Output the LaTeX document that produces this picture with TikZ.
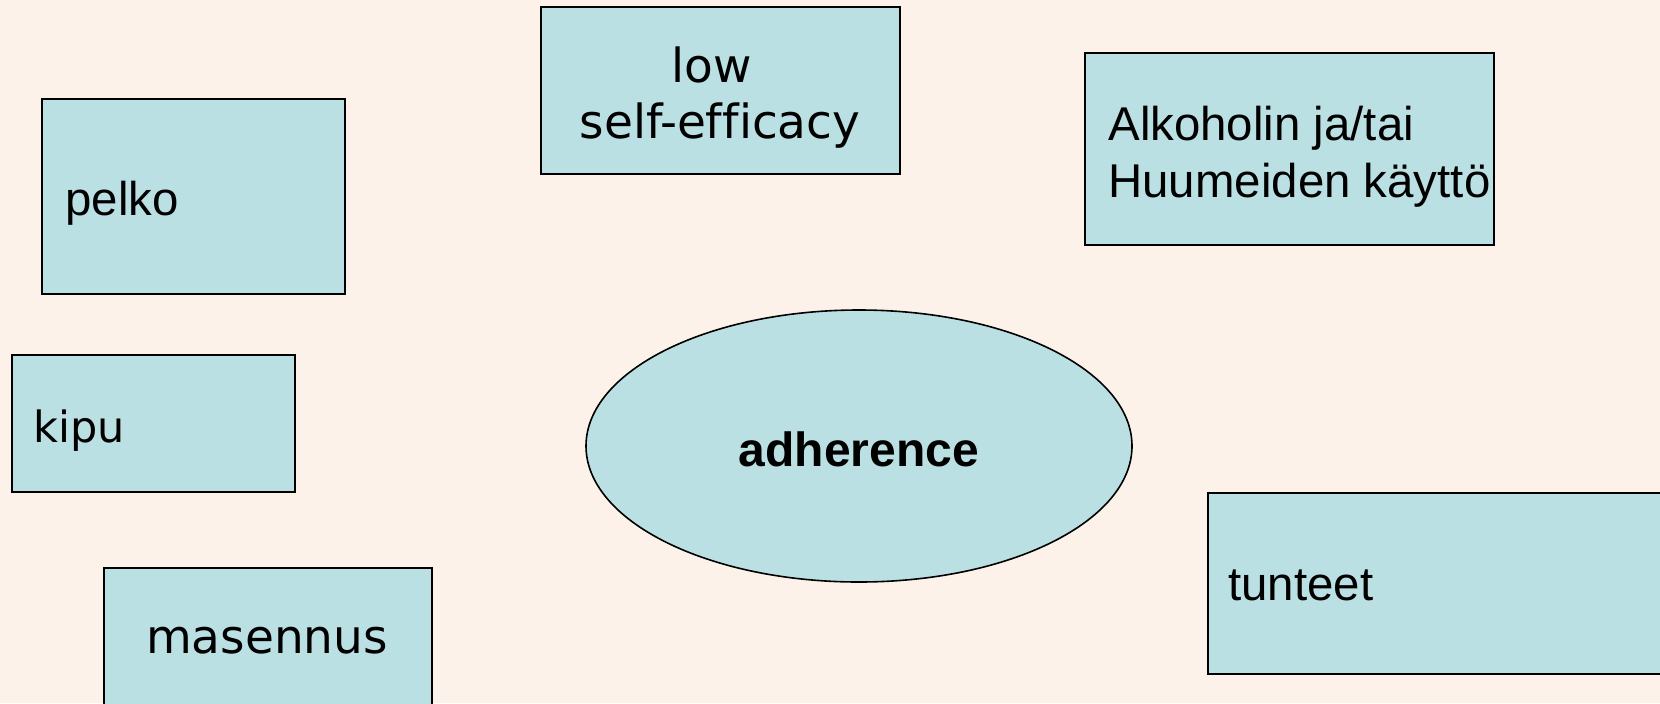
\documentclass[tikz,border=0pt]{standalone}
\usepackage{fontspec}
\setmainfont{Liberation Sans}
\newfontfamily\verdfont[Ligatures=NoCommon]{DejaVu Sans}
\usetikzlibrary{shapes.geometric}

\definecolor{paper}{RGB}{252,242,234}
\definecolor{boxfill}{RGB}{187,224,227}

\tikzset{
    factor/.style={draw=black, line width=0.8pt, fill=boxfill, rectangle, inner sep=0pt},
    word/.style={inner sep=0pt, font=\fontsize{23.7pt}{28.5pt}\selectfont},
    vword/.style={inner sep=0pt, font=\verdfont\fontsize{23.5pt}{28pt}\selectfont},
}

\begin{document}
\begin{tikzpicture}[x=0.5pt, y=-0.5pt]
    % the page
    \fill[paper] (0,0) rectangle (1660,703);
    \useasboundingbox (0,0) rectangle (1660,703);

    % low self-efficacy box
    \node[factor, minimum width=179.5pt, minimum height=83.5pt] (lowse) at (720.5,90.5) {};
    \node[vword, anchor=base] (lowtext) at (712,82) {low};
    \node[vword, anchor=base] (setext) at (720,138) {self-efficacy};

    % alcohol / drugs box
    \node[factor, minimum width=204.5pt, minimum height=96pt] (alko) at (1289.5,149) {};
    \node[word, anchor=base west] (alkotext) at (1108,140) {Alkoholin ja/tai};
    \node[word, anchor=base west] (huumetext) at (1108,197) {Huumeiden käyttö};

    % pelko box
    \node[factor, minimum width=151.5pt, minimum height=97.5pt] (pelko) at (193.5,196.5) {};
    \node[word, anchor=base west] (pelkotext) at (65,215) {pelko};

    % kipu box
    \node[factor, minimum width=141.5pt, minimum height=68.5pt] (kipu) at (153.5,423.5) {};
    \node[vword, anchor=base west, font=\verdfont\fontsize{21.5pt}{26pt}\selectfont] (kiputext) at (33,442) {kipu};

    % the ellipse in the middle
    \node[factor, ellipse, minimum width=273pt, minimum height=136pt] (adh) at (859,446) {};
    \node[word, anchor=base, font=\bfseries\fontsize{24pt}{29pt}\selectfont] (adhtext) at (859,466) {adherence};

    % masennus box (runs off the bottom)
    \node[factor, minimum width=164pt, minimum height=80pt, anchor=north west] (masennus) at (103,567) {};
    \node[vword, anchor=base] (masentext) at (267,653) {masennus};

    % tunteet box (runs off the right side)
    \node[factor, minimum width=230pt, minimum height=90.5pt, anchor=north west] (tunteet) at (1207,492) {};
    \node[word, anchor=base west] (tuntext) at (1228,600) {tunteet};
\end{tikzpicture}
\end{document}
